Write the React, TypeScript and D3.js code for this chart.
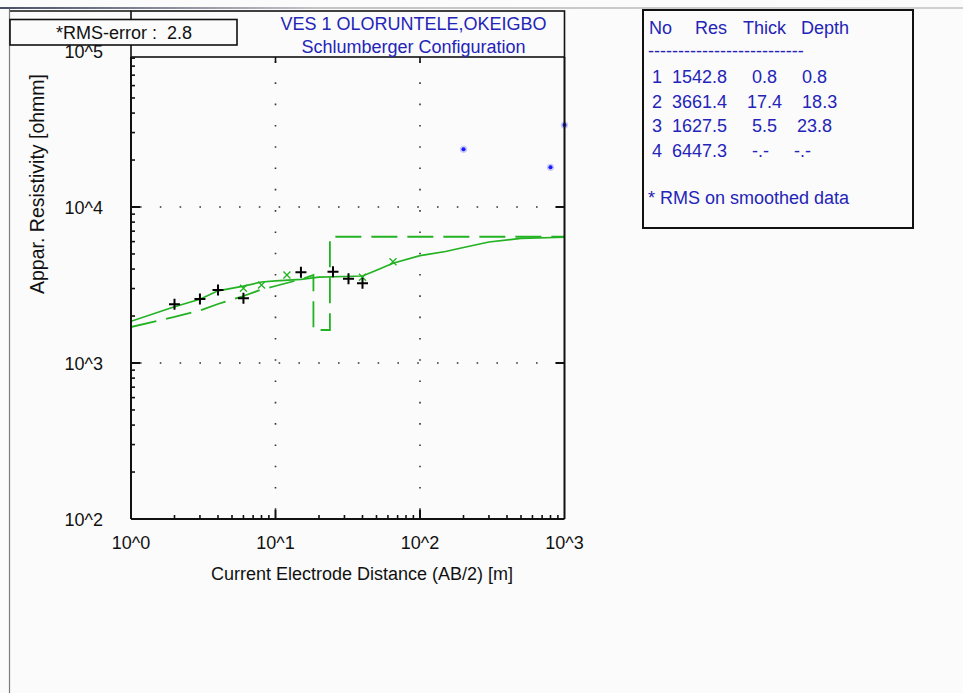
import React from "react";
import * as d3 from "d3";

// Field sounding: half electrode spacing AB/2 [m] and apparent resistivity [ohm.m]
const fieldAB = [2, 3, 4, 6, 15, 25, 32, 40];
const fieldRho = [2378, 2572, 2938, 2598, 3814, 3848, 3471, 3242];

// Smoothed sounding points
const smoothAB = [6, 8, 12, 40, 65];
const smoothRho = [3012, 3162, 3665, 3543, 4461];

// Points flagged off the curve
const outlierAB = [200, 800, 1000];
const outlierRho = [23440, 17970, 33550];

// Calculated response of the layered model
const calcAB = [1, 2, 3, 4, 6, 8, 10, 15, 20, 30, 40, 50, 65, 100, 150, 200, 300, 500, 1000];
const calcRho = [1851, 2293, 2561, 2903, 3111, 3305, 3360, 3440, 3548, 3585, 3612, 3928, 4356, 4873, 5184, 5502, 5965, 6300, 6400];

// Leading (shallow) part of the model section before the first boundary
const leadAB = [1, 2, 3, 4, 6, 8, 10, 15];
const leadRho = [1701, 1972, 2170, 2389, 2688, 2959, 3116, 3440];

// Layer table
const layerNo = [1, 2, 3, 4];
const layerRes = [1542.8, 3661.4, 1627.5, 6447.3];
const layerThick = [0.8, 17.4, 5.5];
const layerDepth = [0.8, 18.3, 23.8];

const xTickValues = [1, 10, 100, 1000];
const xTickLabels = ["10^0", "10^1", "10^2", "10^3"];
const yTickValues = [100, 1000, 10000, 100000];
const yTickLabels = ["10^2", "10^3", "10^4", "10^5"];
const rmsError = 2.8;

const FONT = "'Liberation Sans', Arial, Helvetica, sans-serif";
const GREEN = "#22b222";
const BLUE = "#2424b8";

export default function App() {
  const W = 963;
  const H = 693;
  const left = 131;
  const right = 564.5;
  const bottom = 519;
  const frameTop = 57;

  const x = d3.scaleLog().domain([1, 1000]).range([left, right]);
  const y = d3.scaleLog().domain([100, 100000]).range([bottom, 51]);

  const line = d3
    .line<[number, number]>()
    .x((d) => x(d[0]))
    .y((d) => y(d[1]));

  const calcPts: [number, number][] = calcAB.map((a, i) => [a, calcRho[i]]);
  const modelPts: [number, number][] = [
    ...leadAB.map((a, i) => [a, leadRho[i]] as [number, number]),
    [layerDepth[1], layerRes[1]],
    [layerDepth[1], layerRes[2]],
    [layerDepth[2], layerRes[2]],
    [layerDepth[2], layerRes[3]],
    [1000, layerRes[3]],
  ];

  // minor ticks (2..9 per decade)
  const xMinor: number[] = [];
  [1, 10, 100].forEach((d) => {
    for (let m = 2; m <= 9; m++) xMinor.push(d * m);
  });
  const yMinor: number[] = [];
  [100, 1000, 10000].forEach((d) => {
    for (let m = 2; m <= 9; m++) yMinor.push(d * m);
  });

  const fmt = (v: number) => v.toFixed(1);
  const rows = layerNo.map((n, i) => {
    const th = i < layerThick.length ? fmt(layerThick[i]) : "-.-";
    const dp = i < layerDepth.length ? fmt(layerDepth[i]) : "-.-";
    return ` ${n}  ${fmt(layerRes[i])}${th.padStart(8)}${dp.padStart(8)}`;
  });

  return (
    <svg
      width={W}
      height={H}
      style={{ position: "absolute", left: 0, top: 0, display: "block" }}
      fontFamily={FONT}
    >
      <defs>
        <linearGradient id="topEdge" x1="0" x2="1" y1="0" y2="0">
          <stop offset="0" stopColor="#4a4f6a" />
          <stop offset="0.33" stopColor="#c4c4c8" />
          <stop offset="1" stopColor="#d0d0d0" />
        </linearGradient>
        <clipPath id="plotClip">
          <rect x={left} y={frameTop} width={right - left} height={bottom - frameTop} />
        </clipPath>
      </defs>
      <rect x={0} y={0} width={W} height={H} fill="#fbfbfb" />

      {/* window edges */}
      <rect x={0} y={7} width={W} height={2} fill="url(#topEdge)" />
      <line x1={9.5} x2={9.5} y1={9} y2={H} stroke="#7c7c7c" strokeWidth={1.2} />
      <line x1={10} x2={left} y1={11} y2={11} stroke="#111" strokeWidth={1.5} />

      {/* dotted grid at the decades */}
      {[1000, 10000].map((v) => (
        <line
          key={"gy" + v}
          x1={left}
          x2={right}
          y1={y(v)}
          y2={y(v)}
          stroke="#333"
          strokeWidth={1.6}
          strokeDasharray="1.6 18.2"
          strokeDashoffset={-9}
        />
      ))}
      {[10, 100].map((v) => (
        <line
          key={"gx" + v}
          x1={x(v)}
          x2={x(v)}
          y1={frameTop}
          y2={bottom}
          stroke="#333"
          strokeWidth={1.6}
          strokeDasharray="1.6 19.7"
          strokeDashoffset={-4}
        />
      ))}

      {/* model curves */}
      <g clipPath="url(#plotClip)">
        <path
          d={line(modelPts) || ""}
          fill="none"
          stroke={GREEN}
          strokeWidth={1.8}
          strokeDasharray="26 10"
        />
        <path d={line(calcPts) || ""} fill="none" stroke={GREEN} strokeWidth={1.7} />
      </g>

      {/* smoothed points */}
      {smoothAB.map((a, i) => {
        const cx = x(a);
        const cy = y(smoothRho[i]);
        return (
          <path
            key={"s" + i}
            d={`M${cx - 3.5},${cy - 3.5}L${cx + 3.5},${cy + 3.5}M${cx + 3.5},${cy - 3.5}L${cx - 3.5},${cy + 3.5}`}
            stroke={GREEN}
            strokeWidth={1.3}
            fill="none"
          />
        );
      })}

      {/* field points */}
      {fieldAB.map((a, i) => {
        const cx = x(a);
        const cy = y(fieldRho[i]);
        return (
          <path
            key={"f" + i}
            d={`M${cx - 5.5},${cy}L${cx + 5.5},${cy}M${cx},${cy - 5.5}L${cx},${cy + 5.5}`}
            stroke="#000"
            strokeWidth={2}
            fill="none"
          />
        );
      })}

      {/* off-curve points */}
      {outlierAB.map((a, i) => (
        <g key={"o" + i}>
          <circle cx={x(a)} cy={y(outlierRho[i])} r={3.6} fill="#6a6aff" opacity={0.35} />
          <circle cx={x(a)} cy={y(outlierRho[i])} r={2} fill="#1a1aff" />
        </g>
      ))}

      {/* plot frame */}
      <rect
        x={left}
        y={11}
        width={right - left}
        height={frameTop - 11}
        fill="none"
        stroke="#111"
        strokeWidth={1.6}
      />
      <line x1={left} x2={left} y1={frameTop} y2={bottom} stroke="#111" strokeWidth={2} />
      <line x1={left} x2={right} y1={bottom} y2={bottom} stroke="#111" strokeWidth={2} />
      <line x1={right} x2={right} y1={frameTop} y2={bottom} stroke="#111" strokeWidth={2} />

      {/* ticks */}
      {yMinor.map((v) => (
        <line key={"ym" + v} x1={left} x2={left + 4} y1={y(v)} y2={y(v)} stroke="#111" strokeWidth={1.6} />
      ))}
      {xMinor.map((v) => (
        <line key={"xm" + v} x1={x(v)} x2={x(v)} y1={bottom} y2={bottom - 4} stroke="#111" strokeWidth={1.6} />
      ))}
      {[1000, 10000].map((v) => (
        <g key={"yM" + v}>
          <line x1={left} x2={left + 9} y1={y(v)} y2={y(v)} stroke="#111" strokeWidth={2} />
          <line x1={right - 9} x2={right} y1={y(v)} y2={y(v)} stroke="#111" strokeWidth={2} />
        </g>
      ))}
      {[10, 100].map((v) => (
        <g key={"xM" + v}>
          <line x1={x(v)} x2={x(v)} y1={bottom} y2={bottom - 9} stroke="#111" strokeWidth={2} />
          <line x1={x(v)} x2={x(v)} y1={frameTop} y2={frameTop + 6} stroke="#111" strokeWidth={1.6} />
        </g>
      ))}

      {/* tick labels */}
      {yTickValues.map((v, i) => (
        <text
          key={"yl" + v}
          x={103}
          y={y(v) + 1}
          textAnchor="end"
          dominantBaseline="central"
          fontSize={18}
          fill="#111"
        >
          {yTickLabels[i]}
        </text>
      ))}
      {xTickValues.map((v, i) => (
        <text
          key={"xl" + v}
          x={x(v)}
          y={543}
          textAnchor="middle"
          dominantBaseline="central"
          fontSize={18}
          fill="#111"
        >
          {xTickLabels[i]}
        </text>
      ))}

      {/* axis titles */}
      <text x={362} y={574} textAnchor="middle" dominantBaseline="central" fontSize={18} fill="#111">
        Current Electrode Distance (AB/2) [m]
      </text>
      <text
        transform="translate(37,184) rotate(-90)"
        textAnchor="middle"
        dominantBaseline="central"
        fontSize={19.5}
        fill="#111"
      >
        Appar. Resistivity [ohmm]
      </text>

      {/* title */}
      <text x={413.5} y={24} textAnchor="middle" dominantBaseline="central" fontSize={18} fill={BLUE}>
        VES 1 OLORUNTELE,OKEIGBO
      </text>
      <text x={413.5} y={47} textAnchor="middle" dominantBaseline="central" fontSize={18} fill={BLUE}>
        Schlumberger Configuration
      </text>

      {/* RMS box */}
      <rect x={10} y={19.5} width={227} height={25.5} fill="#fbfbfb" stroke="#111" strokeWidth={1.6} />
      <text x={124} y={33} textAnchor="middle" dominantBaseline="central" fontSize={18} fill="#111" xmlSpace="preserve" style={{ whiteSpace: "pre" }}>
        {`*RMS-error :  ${rmsError.toFixed(1)}`}
      </text>

      {/* layer table */}
      <rect x={643} y={10} width={270} height={218} fill="#fbfbfb" stroke="#111" strokeWidth={2} />
      <g fontSize={18} fill={BLUE} dominantBaseline="central">
        <text x={649} y={28}>No</text>
        <text x={695} y={28}>Res</text>
        <text x={743} y={28}>Thick</text>
        <text x={801} y={28}>Depth</text>
        <text x={648} y={51}>{"-".repeat(26)}</text>
        {rows.map((r, i) => (
          <text key={"r" + i} x={647} y={77} dy={i * 24.5} xmlSpace="preserve" style={{ whiteSpace: "pre" }}>
            {r}
          </text>
        ))}
        <text x={648} y={198}>* RMS on smoothed data</text>
      </g>
    </svg>
  );
}
